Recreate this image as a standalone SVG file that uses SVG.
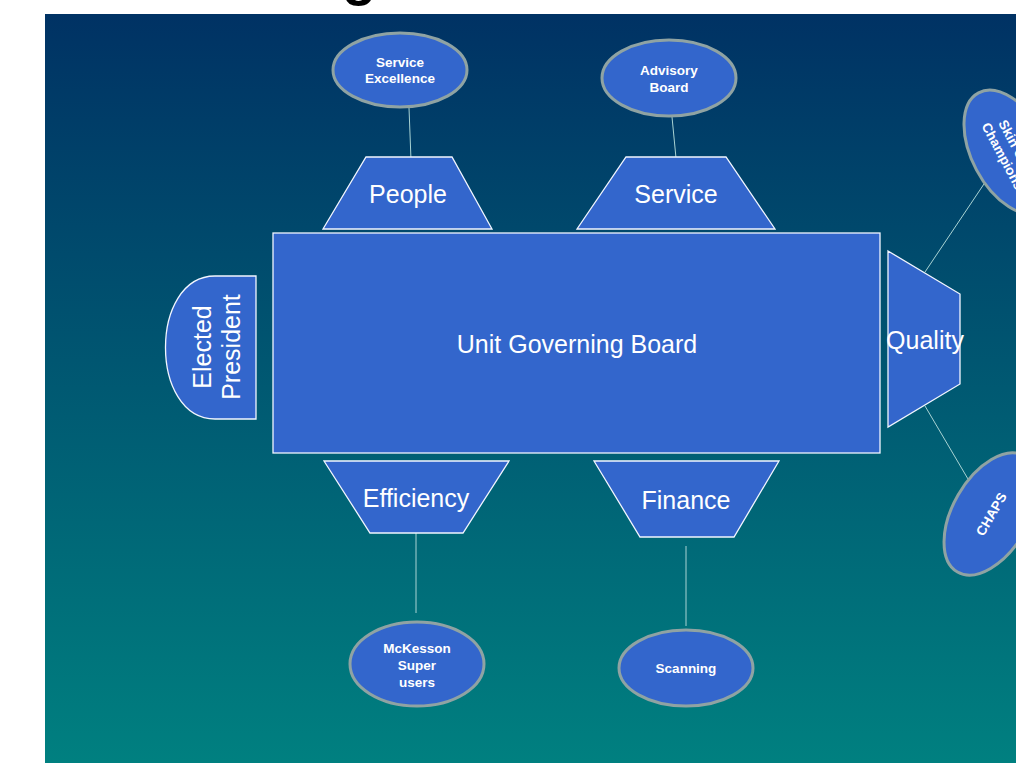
<svg xmlns="http://www.w3.org/2000/svg" width="1016" height="763" viewBox="0 0 1016 763">
  <defs>
    <linearGradient id="bg" x1="0" y1="0" x2="0" y2="1">
      <stop offset="0" stop-color="#003264"/>
      <stop offset="1" stop-color="#008080"/>
    </linearGradient>
    <style>
      .part { fill: #3366CC; stroke: #F2F6FF; stroke-width: 1.3; }
      .bubble { fill: #3366CC; stroke: #8FA3A3; stroke-width: 3; }
      .big { font-family: "Liberation Sans", Arial, sans-serif; font-size: 25px; fill: #FFFFFF; text-anchor: middle; }
      .small { font-family: "Liberation Sans", Arial, sans-serif; font-size: 13.5px; font-weight: bold; fill: #FFFFFF; text-anchor: middle; }
      .link { stroke: #A9D3D3; stroke-width: 1; fill: none; }
    </style>
  </defs>

  <rect width="1016" height="763" fill="#FFFFFF"/>
  <!-- heading fragment above the panel -->
  <text x="342" y="-6" font-family="Liberation Sans, Arial, sans-serif" font-size="56" font-weight="bold" fill="#000000">g</text>
  <rect x="45" y="14" width="971" height="749" fill="url(#bg)"/>

  <g id="connectors">
    <line class="link" x1="409" y1="108" x2="411" y2="160"/>
    <line class="link" x1="672" y1="117" x2="676" y2="158"/>
    <line class="link" x1="416" y1="533" x2="416" y2="613"/>
    <line class="link" x1="686" y1="546" x2="686" y2="626"/>
    <line class="link" x1="925" y1="272" x2="990" y2="175"/>
    <line class="link" x1="925" y1="406" x2="968" y2="479"/>
  </g>

  <g id="board">
    <rect class="part" x="273" y="233" width="607" height="220"/>
    <text class="big" x="577" y="353">Unit Governing Board</text>
  </g>

  <g id="people">
    <polygon class="part" points="366,157 452,157 492,229 323,229"/>
    <text class="big" x="408" y="203">People</text>
  </g>

  <g id="service">
    <polygon class="part" points="626,157 726,157 775,229 577,229"/>
    <text class="big" x="676" y="203">Service</text>
  </g>

  <g id="efficiency">
    <polygon class="part" points="324,461 509,461 463,533 370,533"/>
    <text class="big" x="416" y="507">Efficiency</text>
  </g>

  <g id="finance">
    <polygon class="part" points="594,461 779,461 734,537 640,537"/>
    <text class="big" x="686" y="509">Finance</text>
  </g>

  <g id="quality">
    <polygon class="part" points="888,251 960,294 960,384 888,427"/>
    <text class="big" x="925" y="349">Quality</text>
  </g>

  <g id="president">
    <path class="part" d="M256,276 L256,419 L215,419 C149,419 149,276 215,276 Z"/>
    <g transform="translate(213,347) rotate(-90)">
      <text class="big" x="0" y="-2">Elected</text>
      <text class="big" x="0" y="27">President</text>
    </g>
  </g>

  <g id="service-excellence">
    <ellipse class="bubble" cx="400" cy="70" rx="67" ry="37"/>
    <text class="small" x="400" y="67">Service</text>
    <text class="small" x="400" y="83">Excellence</text>
  </g>

  <g id="advisory-board">
    <ellipse class="bubble" cx="669" cy="78" rx="67" ry="38"/>
    <text class="small" x="669" y="75">Advisory</text>
    <text class="small" x="669" y="92">Board</text>
  </g>

  <g id="mckesson">
    <ellipse class="bubble" cx="417" cy="664" rx="67" ry="42"/>
    <text class="small" x="417" y="653">McKesson</text>
    <text class="small" x="417" y="670">Super</text>
    <text class="small" x="417" y="687">users</text>
  </g>

  <g id="scanning">
    <ellipse class="bubble" cx="686" cy="668" rx="67" ry="38"/>
    <text class="small" x="686" y="673">Scanning</text>
  </g>

  <g id="skin-champions" transform="translate(1010,152) rotate(62)">
    <ellipse class="bubble" cx="0" cy="0" rx="67" ry="38"/>
    <text class="small" x="0" y="-3">Skin Care</text>
    <text class="small" x="0" y="13">Champions</text>
  </g>

  <g id="chaps" transform="translate(991,514) rotate(-60)">
    <ellipse class="bubble" cx="0" cy="0" rx="67" ry="38"/>
    <text class="small" x="0" y="5">CHAPS</text>
  </g>
</svg>
